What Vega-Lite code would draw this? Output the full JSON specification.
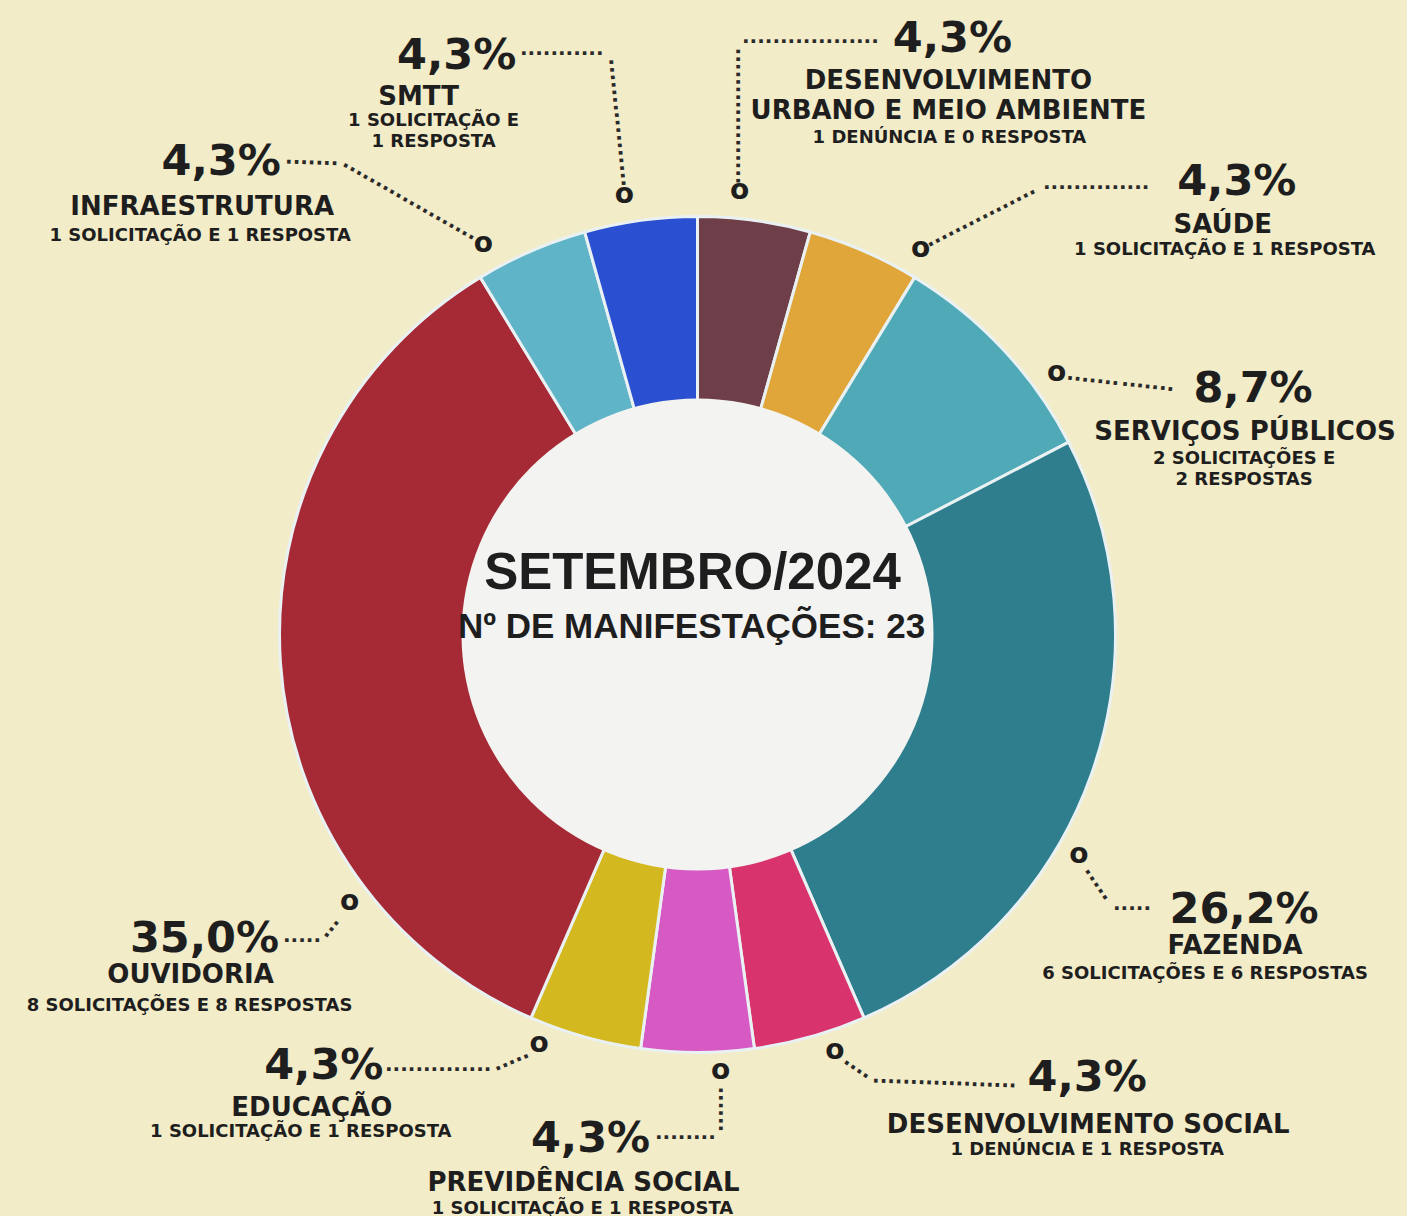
{
  "$schema": "https://vega.github.io/schema/vega-lite/v6.json",
  "width": 1407,
  "height": 1216,
  "autosize": {"type": "fit", "contains": "padding"},
  "padding": {"top": 44, "left": 0, "right": 12, "bottom": 0},
  "background": "#f3ecc8",
  "view": {"stroke": null},
  "data": {
    "values": [
      {"ordem": 1, "cat": "Desenvolvimento Urbano e Meio Ambiente", "n": 1, "pct": "4,3%", "nome": "DESENVOLVIMENTO\nURBANO E MEIO AMBIENTE", "det": "1 DENÚNCIA  E 0 RESPOSTA"},
      {"ordem": 2, "cat": "Saúde", "n": 1, "pct": "4,3%", "nome": "SAÚDE", "det": "1 SOLICITAÇÃO E 1 RESPOSTA"},
      {"ordem": 3, "cat": "Serviços Públicos", "n": 2, "pct": "8,7%", "nome": "SERVIÇOS PÚBLICOS", "det": "2 SOLICITAÇÕES E\n2 RESPOSTAS"},
      {"ordem": 4, "cat": "Fazenda", "n": 6, "pct": "26,2%", "nome": "FAZENDA", "det": "6 SOLICITAÇÕES E 6 RESPOSTAS"},
      {"ordem": 5, "cat": "Desenvolvimento Social", "n": 1, "pct": "4,3%", "nome": "DESENVOLVIMENTO SOCIAL", "det": "1 DENÚNCIA E 1 RESPOSTA"},
      {"ordem": 6, "cat": "Previdência Social", "n": 1, "pct": "4,3%", "nome": "PREVIDÊNCIA SOCIAL", "det": "1 SOLICITAÇÃO E 1 RESPOSTA"},
      {"ordem": 7, "cat": "Educação", "n": 1, "pct": "4,3%", "nome": "EDUCAÇÃO", "det": "1 SOLICITAÇÃO E 1 RESPOSTA"},
      {"ordem": 8, "cat": "Ouvidoria", "n": 8, "pct": "35,0%", "nome": "OUVIDORIA", "det": "8 SOLICITAÇÕES E  8 RESPOSTAS"},
      {"ordem": 9, "cat": "Infraestrutura", "n": 1, "pct": "4,3%", "nome": "INFRAESTRUTURA", "det": "1 SOLICITAÇÃO E 1 RESPOSTA"},
      {"ordem": 10, "cat": "SMTT", "n": 1, "pct": "4,3%", "nome": "SMTT", "det": "1 SOLICITAÇÃO E\n1 RESPOSTA"}
    ]
  },
  "resolve": {"scale": {"theta": "independent"}},
  "layer": [
    {
      "mark": {"type": "arc", "outerRadius": 418, "innerRadius": 232, "stroke": "#e9f1f3", "strokeWidth": 3},
      "encoding": {
        "theta": {"field": "n", "type": "quantitative", "stack": true},
        "order": {"field": "ordem", "type": "quantitative"},
        "color": {
          "field": "cat",
          "type": "nominal",
          "legend": null,
          "scale": {
            "domain": ["Desenvolvimento Urbano e Meio Ambiente", "Saúde", "Serviços Públicos", "Fazenda", "Desenvolvimento Social", "Previdência Social", "Educação", "Ouvidoria", "Infraestrutura", "SMTT"],
            "range": ["#6e3f48", "#e0a63a", "#4fa9b6", "#2f7e8e", "#d9336e", "#d659c4", "#d4b820", "#a52a35", "#5fb4c8", "#2a4fd0"]
          }
        }
      }
    },
    {
      "data": {"values": [{"c": 1}]},
      "mark": {"type": "arc", "outerRadius": 236, "fill": "#f3f3f1"},
      "encoding": {"theta": {"field": "c", "type": "quantitative", "stack": true}}
    },
    {
      "data": {"values": [{"t": "SETEMBRO/2024"}]},
      "mark": {"type": "text", "font": "Liberation Sans", "fontWeight": "bold", "fontSize": 51, "fill": "#1e1e1e", "align": "center", "baseline": "alphabetic", "dx": -5, "dy": -46},
      "encoding": {"text": {"field": "t"}}
    },
    {
      "data": {"values": [{"t": "Nº DE MANIFESTAÇÕES: 23"}]},
      "mark": {"type": "text", "font": "Liberation Sans", "fontWeight": "bold", "fontSize": 35, "fill": "#1e1e1e", "align": "center", "baseline": "alphabetic", "dx": -6, "dy": 3},
      "encoding": {"text": {"field": "t"}}
    },
    {
      "mark": {"type": "text", "radius": 440, "font": "DejaVu Sans", "fontWeight": "bold", "fontSize": 20, "fill": "#2a2a2a", "align": "left", "baseline": "middle", "ellipsis": "·",
        "angle": {"expr": "[-90, -27, 6.3, 56, 34, 90, 0, 0, 2, 0][datum.ordem - 1]"},
        "limit": {"expr": "[140, 126, 55, 45, 32, 48, 110, 42, 55, 90][datum.ordem - 1]"},
        "dx": {"expr": "[14.1, 42.1, 51.6, 57.5, 24.1, 12, -193.8, 24.5, -239.4, -117.6][datum.ordem - 1]"},
        "dy": {"expr": "[-18.4, 39.0, 38.9, 71.5, -12.3, -22.5, 12.3, 276, -60.1, -144.1][datum.ordem - 1]"}},
      "encoding": {
        "theta": {"field": "n", "type": "quantitative", "stack": true},
        "order": {"field": "ordem", "type": "quantitative"},
        "detail": {"field": "cat"},
        "text": {"value": "····································································"}
      }
    },
    {
      "mark": {"type": "text", "radius": 440, "font": "DejaVu Sans", "fontWeight": "bold", "fontSize": 20, "fill": "#2a2a2a", "align": "left", "baseline": "middle", "ellipsis": "·",
        "angle": {"expr": "[0, 0, 6.3, 0, 2, 0, -23, -51, 29.7, 84.2][datum.ordem - 1]"},
        "limit": {"expr": "[140, 112, 55, 45, 150, 62, 40, 28, 155, 130][datum.ordem - 1]"},
        "dx": {"expr": "[-15.4, 170.2, 106.9, 0.9, 56.6, -42.5, -81.9, -171.1, -189.4, -142.2][datum.ordem - 1]"},
        "dy": {"expr": "[-156.1, -43.4, 38.8, 127.6, 21.3, 63, -21.4, 224.1, 31.6, 13.3][datum.ordem - 1]"}},
      "encoding": {
        "theta": {"field": "n", "type": "quantitative", "stack": true},
        "order": {"field": "ordem", "type": "quantitative"},
        "detail": {"field": "cat"},
        "text": {"value": "····································································"}
      }
    },
    {
      "mark": {"type": "text", "radius": 442, "font": "DejaVu Sans", "fontWeight": "bold", "fontSize": 28, "fill": "#1e1e1e", "align": "center", "baseline": "middle",
        "dx": {"expr": "[-18, 47, 36, -35, 18, 23, -39, 93, -38, -13][datum.ordem - 1]"},
        "dy": {"expr": "[-6, 20, 40, 72, -9, -6, -16, 237, 15, -2][datum.ordem - 1]"}},
      "encoding": {
        "theta": {"field": "n", "type": "quantitative", "stack": true},
        "order": {"field": "ordem", "type": "quantitative"},
        "detail": {"field": "cat"},
        "text": {"value": "o"}
      }
    },
    {
      "mark": {"type": "text", "radius": 440, "font": "DejaVu Sans", "fontWeight": "bold", "fontSize": 43, "fill": "#1e1e1e", "align": "center", "baseline": "alphabetic",
        "dx": {"expr": "[195, 364, 234, 132, 271, -107, -255, -54, -301, -181][datum.ordem - 1]"},
        "dy": {"expr": "[-147, -36, 68, 141, 33, 77, 21, 287, -56, -130][datum.ordem - 1]"}},
      "encoding": {
        "theta": {"field": "n", "type": "quantitative", "stack": true},
        "order": {"field": "ordem", "type": "quantitative"},
        "detail": {"field": "cat"},
        "text": {"field": "pct"}
      }
    },
    {
      "mark": {"type": "text", "radius": 440, "font": "DejaVu Sans", "fontWeight": "bold", "fontSize": 26, "lineHeight": 30, "lineBreak": "\n", "fill": "#1e1e1e", "align": "center", "baseline": "alphabetic",
        "dx": {"expr": "[191, 350, 226, 123, 272, -114, -267, -68, -320, -219][datum.ordem - 1]"},
        "dy": {"expr": "[-110, 2, 106, 172, 75, 116, 58, 318, -16, -94][datum.ordem - 1]"}},
      "encoding": {
        "theta": {"field": "n", "type": "quantitative", "stack": true},
        "order": {"field": "ordem", "type": "quantitative"},
        "detail": {"field": "cat"},
        "text": {"field": "nome"}
      }
    },
    {
      "mark": {"type": "text", "radius": 440, "font": "DejaVu Sans", "fontWeight": "bold", "fontSize": 18, "lineHeight": 21, "lineBreak": "\n", "fill": "#1e1e1e", "align": "center", "baseline": "alphabetic",
        "dx": {"expr": "[192, 352, 225, 93, 271, -115, -278, -69, -322, -204][datum.ordem - 1]"},
        "dy": {"expr": "[-56, 24, 130, 197, 97, 139, 79, 346, 10, -73][datum.ordem - 1]"}},
      "encoding": {
        "theta": {"field": "n", "type": "quantitative", "stack": true},
        "order": {"field": "ordem", "type": "quantitative"},
        "detail": {"field": "cat"},
        "text": {"field": "det"}
      }
    }
  ]
}
